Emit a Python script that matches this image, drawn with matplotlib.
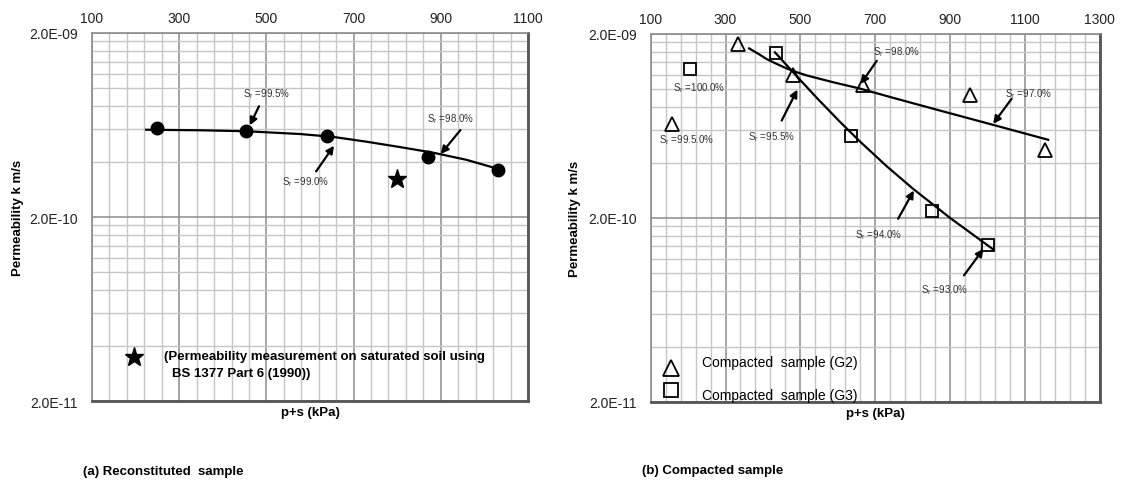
#Permeability vs p+s for reconstituted and compacted samples
import numpy as np
import matplotlib
matplotlib.use("Agg")
import matplotlib.pyplot as plt
from matplotlib.ticker import FixedLocator, MultipleLocator, NullFormatter

plt.rcParams['font.family'] = ['Liberation Sans', 'DejaVu Sans']
plt.rcParams['mathtext.fontset'] = 'custom'
plt.rcParams['mathtext.rm'] = 'Liberation Sans'

#Reconstituted sample (a)
recon_p = [249, 454, 638, 870, 1031]
recon_k = [6.10e-10, 5.87e-10, 5.51e-10, 4.22e-10, 3.60e-10]
recon_fit_p = [224, 350, 454, 577, 653, 730, 806, 883, 959, 1044]
recon_fit_k = [5.96e-10, 5.92e-10, 5.85e-10, 5.65e-10, 5.45e-10, 5.13e-10, 4.80e-10, 4.47e-10, 4.09e-10, 3.58e-10]
sat_p = [800]
sat_k = [3.22e-10]

#Compacted samples (b)
g2_p = [156, 332, 481, 666, 952, 1153]
g2_k = [6.50e-10, 1.77e-9, 1.19e-9, 1.06e-9, 9.33e-10, 4.69e-10]
g3_p = [205, 435, 635, 851, 1002]
g3_k = [1.29e-9, 1.57e-9, 5.57e-10, 2.18e-10, 1.43e-10]
g2_fit_p = [363, 390, 410, 435, 463, 490, 517, 590, 659, 755, 880, 1015, 1162]
g2_fit_k = [1.67e-9, 1.55e-9, 1.46e-9, 1.38e-9, 1.30e-9, 1.24e-9, 1.19e-9, 1.09e-9, 1.01e-9, 8.91e-10, 7.60e-10, 6.41e-10, 5.32e-10]
g3_fit_p = [432, 490, 546, 606, 659, 730, 801, 900, 1015]
g3_fit_k = [1.59e-9, 1.18e-9, 8.89e-10, 6.65e-10, 5.21e-10, 3.83e-10, 2.88e-10, 2.00e-10, 1.35e-10]

y_ticks = [2e-11, 2e-10, 2e-9]
y_labels = ['2.0E-11', '2.0E-10', '2.0E-09']

fig = plt.figure(figsize=(11.22, 4.85), dpi=100)
axA = fig.add_axes([0.0820, 0.1711, 0.3886, 0.7588])
axB = fig.add_axes([0.5799, 0.1691, 0.4004, 0.7588])


def style_axes(ax, xmax):
    ax.set_yscale('log')
    ax.set_ylim(2e-11, 2e-9)
    ax.set_xlim(100, xmax)
    ax.xaxis.tick_top()
    ax.xaxis.set_major_locator(FixedLocator(np.arange(100, xmax + 1, 200)))
    ax.xaxis.set_minor_locator(MultipleLocator(40, offset=20))
    ax.yaxis.set_major_locator(FixedLocator(y_ticks))
    ax.set_yticklabels(y_labels)
    minors = [2e-11 * k for k in range(2, 10)] + [2e-10 * k for k in range(2, 10)]
    ax.yaxis.set_minor_locator(FixedLocator(minors))
    ax.yaxis.set_minor_formatter(NullFormatter())
    ax.tick_params(which='both', length=0, labelsize=10, colors='#222222')
    ax.tick_params(axis='x', pad=6)
    ax.tick_params(axis='y', pad=10)
    ax.grid(which='minor', color='#c6c6c6', lw=1.0)
    ax.grid(which='major', color='#8c8c8c', lw=1.1)
    ax.set_axisbelow(True)
    for s in ['top', 'left']:
        ax.spines[s].set_color('#8c8c8c')
        ax.spines[s].set_linewidth(1.2)
    for s in ['bottom', 'right']:
        ax.spines[s].set_color('#555555')
        ax.spines[s].set_linewidth(2.0)
    ax.text(0.5, -0.03, 'p+s (kPa)', transform=ax.transAxes, ha='center', va='center',
            fontsize=9.5, fontweight='bold')
    ax.set_ylabel('Permeability k m/s', fontsize=9.5, fontweight='bold')


def note(ax, text, pos, arrow=None):
    ax.text(pos[0], pos[1], text, fontsize=7, ha='left', va='center', color='#333333')
    if arrow is not None:
        ax.annotate('', xy=arrow[1], xytext=arrow[0],
                    arrowprops=dict(arrowstyle='-|>', color='k', lw=1.6, mutation_scale=11,
                                    shrinkA=0, shrinkB=0))


#(a) Reconstituted sample
style_axes(axA, 1100)
axA.yaxis.set_label_coords(-0.156, 0.5)
axA.plot(recon_fit_p, recon_fit_k, color='k', lw=1.6)
axA.plot(recon_p, recon_k, 'o', color='k', ms=9)
axA.plot(sat_p, sat_k, '*', color='k', ms=14)
note(axA, r'S$_\mathrm{r}$ =99.5%', (446, 9.4e-10), ((483, 8.0e-10), (462, 6.3e-10)))
note(axA, r'S$_\mathrm{r}$ =99.0%', (536, 3.15e-10), ((614, 3.54e-10), (655, 4.88e-10)))
note(axA, r'S$_\mathrm{r}$ =98.0%', (868, 6.9e-10), ((945, 5.94e-10), (900, 4.40e-10)))
axA.plot([0.097], [0.119], '*', color='k', ms=14, transform=axA.transAxes, clip_on=False)
axA.text(0.164, 0.123, '(Permeability measurement on saturated soil using', transform=axA.transAxes,
         fontsize=9.5, fontweight='bold', va='center')
axA.text(0.183, 0.076, 'BS 1377 Part 6 (1990))', transform=axA.transAxes,
         fontsize=9.5, fontweight='bold', va='center')

#(b) Compacted sample
style_axes(axB, 1300)
axB.yaxis.set_label_coords(-0.155, 0.5)
axB.plot(g2_fit_p, g2_fit_k, color='k', lw=1.6)
axB.plot(g3_fit_p, g3_fit_k, color='k', lw=1.6)
axB.plot(g2_p, g2_k, '^', mfc='none', mec='k', mew=1.3, ms=10)
axB.plot(g3_p, g3_k, 's', mfc='none', mec='k', mew=1.3, ms=9)
note(axB, r'S$_\mathrm{r}$ =100.0%', (159, 1.03e-9))
note(axB, r'S$_\mathrm{r}$ =99.5.0%', (123, 5.34e-10))
note(axB, r'S$_\mathrm{r}$ =95.5%', (361, 5.57e-10), ((450, 6.77e-10), (492, 9.97e-10)))
note(axB, r'S$_\mathrm{r}$ =98.0%', (694, 1.62e-9), ((704, 1.43e-9), (661, 1.07e-9)))
note(axB, r'S$_\mathrm{r}$ =97.0%', (1046, 9.57e-10), ((1064, 8.88e-10), (1015, 6.50e-10)))
note(axB, r'S$_\mathrm{r}$ =94.0%', (646, 1.64e-10), ((761, 1.98e-10), (803, 2.82e-10)))
note(axB, r'S$_\mathrm{r}$ =93.0%', (823, 8.26e-11), ((937, 9.75e-11), (989, 1.36e-10)))
axB.plot([0.045], [0.093], '^', mfc='none', mec='k', mew=1.3, ms=11, transform=axB.transAxes)
axB.plot([0.045], [0.032], 's', mfc='none', mec='k', mew=1.3, ms=10, transform=axB.transAxes)
axB.text(0.115, 0.108, 'Compacted  sample (G2)', transform=axB.transAxes, fontsize=10, va='center')
axB.text(0.115, 0.020, 'Compacted  sample (G3)', transform=axB.transAxes, fontsize=10, va='center')

fig.text(82.7 / 1122, 1 - 471.7 / 485, '(a) Reconstituted  sample', fontsize=9.5, fontweight='bold', va='center')
fig.text(641.8 / 1122, 1 - 470.7 / 485, '(b) Compacted sample', fontsize=9.5, fontweight='bold', va='center')

fig.savefig('out.png', dpi=100)
